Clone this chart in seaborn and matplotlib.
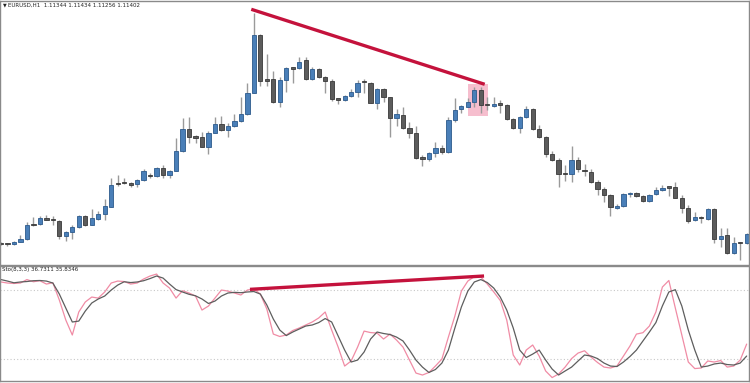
import numpy as np
import pandas as pd
import matplotlib
matplotlib.use("Agg")
import matplotlib.pyplot as plt
import seaborn as sns

# EURUSD H1 - prices in points above an arbitrary base (chart has no price scale)
opens = [21, 21, 21, 23.3, 26, 40, 40.7, 47, 45, 44.3,
         29.3, 32.7, 38.3, 49, 40, 46.3, 51.3, 58.3, 82.3, 82.3,
         81, 81, 85, 89, 89, 96.7, 89.7, 94.3, 114, 135.7,
         127.7, 127.7, 118.3, 132.3, 141, 135, 139, 144.3, 151, 172.3,
         230, 186.3, 186, 163.3, 185, 196.7, 196.7, 205, 186, 195.7,
         187.7, 184.3, 165.7, 165, 169, 173.3, 183, 181.7, 162.3, 175.7,
         167.7, 146.7, 150, 136.7, 131.7, 106.7, 105.7, 111.7, 117.3, 113.3,
         145, 156.3, 158.3, 163.3, 175, 160, 159.3, 160.7, 160, 145.7,
         136.7, 147.7, 155.7, 135.7, 127.7, 111, 105, 91, 91, 105,
         94.3, 93.3, 83.3, 75.7, 70, 56.7, 59, 71.2, 71.7, 69,
         64.3, 70.7, 75, 77.7, 77.7, 66.7, 56.7, 45, 47.7, 45.7,
         55.7, 25.7, 29.7, 12.3, 22.3, 22.3]
highs = [23, 22.3, 24, 29.7, 43, 48.3, 49, 50, 49, 45,
         34.3, 40, 50, 50, 56.3, 54.3, 65.7, 86.7, 90, 86.7,
         83.3, 85.7, 95.7, 91.7, 97.7, 99.7, 95, 126.7, 146.7, 148.3,
         130, 133.3, 134.3, 147.7, 149, 141.7, 151, 168.3, 182.3, 251.7,
         230.7, 211, 194.3, 188.3, 198.3, 198.3, 207.7, 207.7, 198.3, 196.7,
         189, 185.7, 166.3, 170, 175.7, 185, 185.7, 183, 176.7, 176.7,
         168.3, 155.7, 157.7, 143.3, 139, 110, 113.3, 123.3, 120, 148.3,
         166.7, 160, 166.7, 178.3, 178.3, 168.3, 167.7, 165, 161, 146.7,
         149, 159, 156.7, 140, 129, 114.3, 106.7, 100, 119, 107.7,
         101, 95.7, 85, 77.7, 71, 61, 72.3, 73.3, 73.3, 70,
         71, 78.3, 80, 78.3, 83.3, 70, 60, 53.3, 49, 56.7,
         56.7, 36.7, 36.7, 27.7, 23.3, 31.7]
lows = [20, 19, 19.7, 23, 25, 39.3, 39.7, 45, 39.7, 25.7,
        24.3, 25.7, 37.3, 39, 40, 45, 45, 57.7, 79, 81,
        77.7, 77.7, 84.3, 86.7, 88.3, 86.7, 86.7, 94.3, 113.3, 122.3,
        122.3, 117.7, 111, 131.7, 134.3, 127.7, 138.3, 143.3, 150, 171.7,
        179, 179, 161.7, 157.7, 173.3, 182.3, 195.7, 185, 185, 186.7,
        172.3, 164.3, 161, 164.3, 167.7, 167.7, 171.7, 161.7, 155.7, 163.3,
        127.7, 139, 135.7, 126.7, 105.7, 99, 104.3, 107.7, 111, 111.7,
        143.3, 151.7, 157.7, 158.3, 151.7, 155, 158.3, 151.7, 145, 135.7,
        131.7, 146.7, 135, 126.7, 108.3, 104.3, 77.7, 84.3, 83.3, 93.3,
        89, 81.7, 70, 63.3, 49, 55.7, 58.3, 67.7, 67.7, 63.3,
        63.3, 70, 74.3, 69, 66.7, 52.3, 41.7, 44.3, 41.7, 45,
        21.7, 17.7, 11, 11, 5, 21]
closes = [20.7, 20.7, 23.3, 26, 39.7, 39.7, 46.7, 45.3, 44.7, 29.3,
          32.7, 38.3, 49, 39.7, 46.7, 51.3, 59, 80, 81, 82,
          80.5, 85, 94.3, 88.7, 96.7, 89.7, 94, 114, 135.7, 127.7,
          127.4, 118.3, 131.7, 140.7, 135, 139, 144.3, 151, 171.7, 230,
          184.3, 184.3, 163.3, 185, 196.7, 196.4, 203, 186, 195.7, 187.7,
          184.3, 166, 165.4, 169, 173.3, 181.7, 182.7, 162.3, 175.7, 167.7,
          146.7, 150.7, 136.7, 131.7, 106.7, 106.4, 111.7, 117.3, 113.3, 145,
          155, 159, 163.3, 175, 160, 159.7, 161, 160.4, 145.7, 136.7,
          147.7, 155.7, 135.7, 127.7, 111, 105, 91, 90.7, 105, 95.7,
          94, 83.3, 75.7, 70, 58.3, 59, 71, 72, 69, 64.3,
          70, 75, 77.3, 77.4, 66.7, 56.7, 44.3, 47.7, 46.7, 55.7,
          25.7, 29, 11.7, 22.3, 22, 31]

# Stochastic(8,3,3)
sto_main = [87.0, 86.1, 85.7, 86.1, 89.1, 87.2, 88.1, 85.2, 86.3, 71.3,
            53.9, 40.9, 60.9, 69.6, 73.9, 73.0, 78.3, 86.1, 87.8, 87.4,
            85.2, 86.1, 89.6, 92.2, 93.9, 86.1, 81.7, 73.0, 79.4, 77.4,
            74.8, 62.6, 66.1, 73.0, 80.0, 79.1, 77.4, 75.7, 80.0, 80.9,
            76.5, 63.5, 41.7, 39.6, 40.9, 44.8, 47.0, 49.6, 52.2, 55.7,
            60.9, 45.2, 30.4, 13.9, 18.3, 30.4, 44.3, 43.0, 42.6, 37.4,
            41.7, 36.5, 30.4, 19.1, 7.8, 6.1, 8.3, 13.9, 20.0, 39.1,
            57.4, 79.1, 87.8, 91.7, 91.3, 85.2, 78.3, 70.9, 53.9, 23.5,
            14.8, 27.8, 32.2, 22.6, 9.6, 3.9, 7.0, 13.0, 20.4, 25.2,
            27.2, 21.7, 17.0, 13.0, 12.2, 13.9, 22.6, 31.3, 41.7, 42.9,
            48.7, 60.9, 82.6, 88.3, 64.3, 40.9, 17.4, 11.7, 12.2, 18.3,
            17.4, 18.7, 13.0, 13.9, 19.1, 33.0]
sto_signal = [89.1, 87.8, 86.3, 87.0, 87.4, 88.1, 88.3, 87.8, 86.1, 76.5,
              64.3, 52.2, 53.0, 61.7, 68.7, 72.2, 74.8, 80.0, 84.3, 87.2,
              86.5, 87.0, 88.1, 90.0, 92.2, 90.4, 85.2, 80.4, 78.3, 76.3,
              75.0, 72.2, 68.3, 70.4, 74.8, 77.4, 78.0, 77.7, 78.3, 78.7,
              76.5, 67.0, 54.8, 45.2, 40.4, 43.5, 46.1, 48.7, 49.6, 51.7,
              55.2, 52.2, 40.0, 27.8, 17.4, 19.1, 26.1, 37.4, 43.5, 42.2,
              41.3, 39.1, 35.7, 27.8, 19.1, 13.0, 8.3, 10.9, 16.5, 27.8,
              47.0, 65.2, 79.1, 87.0, 89.1, 86.5, 81.7, 73.9, 62.6, 47.0,
              27.8, 21.3, 24.3, 27.8, 19.1, 11.3, 6.1, 9.6, 13.0, 18.3,
              23.5, 22.6, 20.4, 16.5, 13.9, 13.5, 17.4, 22.2, 27.8, 35.7,
              43.5, 51.7, 66.1, 78.3, 80.3, 66.1, 45.2, 27.8, 13.0, 13.9,
              15.7, 16.5, 15.2, 14.8, 16.5, 22.6]
sto_levels = [20, 80]

header_text = "EURUSD,H1  1.11344 1.11434 1.11256 1.11402"
sto_text = "Sto(8,3,3) 36.7311 35.8346"

# divergence drawn by hand (bar index, value)
price_div_x = [38.6, 74.6]
price_div_y = [255.7, 180.7]
sto_div_x = [38.4, 74.5]
sto_div_y = [80.6, 92.2]
box_x = [72.0, 75.1]
box_y = [149.3, 181.0]

sns.set_style("white")
plt.rcParams['font.family'] = ['DejaVu Sans']

df = pd.DataFrame({"open": opens, "high": highs, "low": lows, "close": closes})
df["bar"] = np.arange(len(df))
df["up"] = df["close"] >= df["open"]
sto = pd.DataFrame({"bar": np.arange(len(sto_main)), "main": sto_main, "signal": sto_signal})

W, H = 750, 383
fig = plt.figure(figsize=(7.5, 3.83), dpi=100)
ax1 = fig.add_axes([0, 1 - 265 / H, 749 / W, 264 / H])
ax2 = fig.add_axes([0, 1 - 381 / H, 749 / W, 115 / H])

xlim = (-0.15, 115.36)
border = "#8a8a8a"
for ax in (ax1, ax2):
    ax.set_xlim(*xlim)
    ax.set_xticks([])
    ax.set_yticks([])
    for s in ax.spines.values():
        s.set_color(border)
        s.set_linewidth(1.0)

# ---- price panel
ax1.set_ylim(0, 264)
ax1.fill_between(box_x, box_y[0], box_y[1], color="#f5b3c6", alpha=0.85, lw=0, zorder=0)
ax1.vlines(df["bar"], df["low"], df["high"], color="#9a9a9a", lw=1.0, zorder=1)

body_lo = np.minimum(df["open"], df["close"])
body_h = np.maximum((df["close"] - df["open"]).abs(), 1.2)
up = df["up"].values
ax1.bar(df["bar"][up], body_h[up], bottom=body_lo[up], width=0.66,
        color="#4a7fb8", edgecolor="#2c5a8c", linewidth=0.6, zorder=2)
ax1.bar(df["bar"][~up], body_h[~up], bottom=body_lo[~up], width=0.66,
        color="#5c5c5c", edgecolor="#393939", linewidth=0.6, zorder=2)

ax1.plot(price_div_x, price_div_y, color="#c4123c", lw=2.4, solid_capstyle="butt", zorder=3)

fig.text(3 / W, 1 - 5 / H, "\u25bc", fontsize=3.5, va="center", ha="left", color="#222222")
fig.text(8 / W, 1 - 5 / H, header_text, fontsize=4, va="center", ha="left", color="#222222")

# ---- stochastic panel
ax2.set_ylim(0.9, 100.9)
for lv in sto_levels:
    ax2.axhline(lv, color="#c8c8c8", lw=0.8, ls=(0, (1, 2)), zorder=0)
sns.lineplot(data=sto, x="bar", y="signal", ax=ax2, color="#5e5e5e", lw=0.9, zorder=2)
sns.lineplot(data=sto, x="bar", y="main", ax=ax2, color="#f08ca5", lw=0.9, zorder=1)
ax2.plot(sto_div_x, sto_div_y, color="#c4123c", lw=2.4, solid_capstyle="butt", zorder=3)
ax2.set_xlabel("")
ax2.set_ylabel("")
fig.text(2 / W, 1 - 270 / H, sto_text, fontsize=4, va="center", ha="left", color="#222222")

fig.savefig("out.png", dpi=100)
